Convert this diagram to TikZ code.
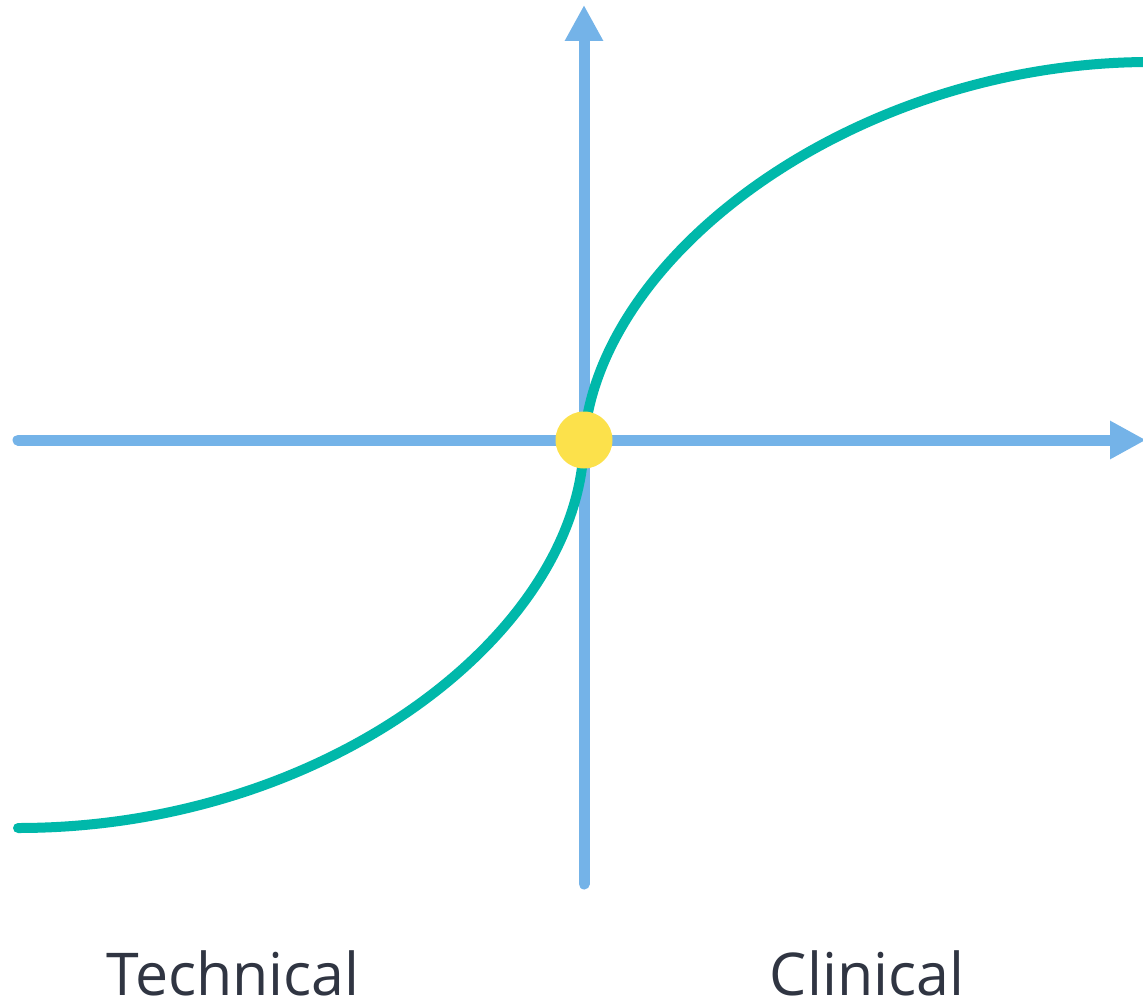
\documentclass[tikz,border=0pt]{standalone}
\usepackage{fontspec}
\setmainfont{Open Sans}
\usetikzlibrary{arrows.meta}
\definecolor{axisblue}{HTML}{74B3E8}
\definecolor{curveteal}{HTML}{00B8AA}
\definecolor{dotyellow}{HTML}{FCE14B}
\definecolor{labeldark}{HTML}{303542}
\begin{document}
\begin{tikzpicture}[x=1pt,y=-1pt,
  axis/.style={draw=axisblue,line width=11pt,line cap=round,-{Triangle[length=36pt,width=36pt]}},
  scurve/.style={draw=curveteal,line width=10pt,line cap=round},
  label/.style={font=\fontsize{59}{60}\selectfont,text=labeldark,anchor=base,inner sep=0pt,text depth=0pt}]
\useasboundingbox (0,0) rectangle (1143,1006);
\coordinate (O) at (584,440);
\coordinate (xs) at (18,440);
\coordinate (xe) at (1146,440);
\coordinate (ys) at (584,884);
\coordinate (ye) at (584,5);
\coordinate (cs) at (18,828);
\coordinate (ce) at (1150,62);
\draw[axis] (xs) -- (xe);
\draw[axis] (ys) -- (ye);
\draw[scurve] (cs) .. controls (330,828) and (582,630) .. (O)
  .. controls (600,250) and (860,62) .. (ce);
\node[circle,fill=dotyellow,minimum size=57pt,inner sep=0pt] (dot) at (O) {};
\node[label] (tech) at (233,995) {Technical};
\node[label] (clin) at (867,995) {Clinical};
\end{tikzpicture}
\end{document}
